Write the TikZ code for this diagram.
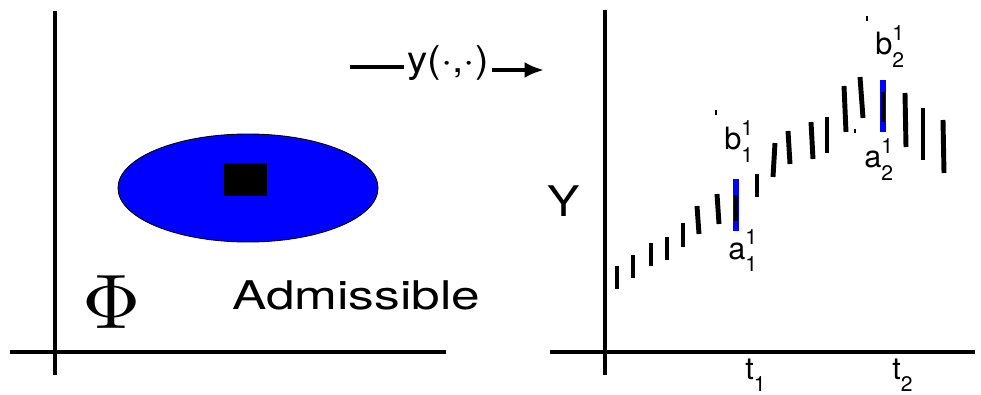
\documentclass[tikz,border=0pt]{standalone}
\usepackage{fontspec}
\newfontfamily\helv{TeX Gyre Heros}
\usetikzlibrary{arrows.meta}

% letter with subscript and superscript
\newcommand{\idx}[3]{#1\rlap{\raisebox{0.46em}{\fontsize{12}{13}\selectfont #3}}\raisebox{-0.42em}{\fontsize{12}{13}\selectfont #2}}

\begin{document}
\begin{tikzpicture}[x=0.02cm, y=-0.02cm,
    axis/.style={line width=2.3pt},
    bar/.style={line width=2.8pt},
    hbar/.style={line width=3.3pt, blue},
    lbl/.style={font=\helv\fontsize{17.5}{20}\selectfont, inner sep=0pt, anchor=base west}]

\useasboundingbox (0,0) rectangle (981,395);

% Left frame
\draw[axis] (55,11) -- (55,375);
\draw[axis] (10,352) -- (446,352);

% Admissible set
\filldraw[fill=blue, draw=black, line width=0.5pt] (248,188) ellipse [x radius=130, y radius=54];
\fill (224,163) rectangle (267,196);

\node[inner sep=0pt] (phi) at (112,302) {\scalebox{4.6}[4.4]{$\Phi$}};
\node[lbl, font=\helv\fontsize{22.5}{26}\selectfont] (adm) at (232,309) {\scalebox{1.3}[1]{Admissible}};

% Mapping arrow
\node[inner sep=2pt, font=\helv\fontsize{21}{24}\selectfont] (ymap) at (448,63) {\scalebox{1.1}[1]{y(·,·)}};
\coordinate (mstart) at (350,67);
\coordinate (mend) at (544,70);
\draw[line width=2.2pt] (mstart) -- (mstart -| ymap.west);
\draw[line width=2.2pt, -{Latex[length=11pt, width=9pt]}] (ymap.east |- mend) -- (mend);

% Right frame
\draw[axis] (605,10) -- (605,375);
\draw[axis] (550,352) -- (975,352);
\node[inner sep=0pt, font=\helv\fontsize{24}{28}\selectfont] (yax) at (564,201) {\scalebox{1.15}[1]{Y}};

% Bars
\foreach \xa/\ya/\xb/\yb in {617/266/617/289, 633/255/633/278, 651/243/651/266,
    667/237/667/260, 683/223/683/247, 697/206/699/234, 717/194/719/224,
    757/174/757/197, 775/143/773/177, 788/131/790/164, 811/122/813/159,
    827/117/827/153, 844/86/846/132, 860/77/863/118, 905/93/906/147,
    923/108/923/160, 943/120/944/173}
  \draw[bar] (\xa,\ya) -- (\xb,\yb);

% Highlighted bars
\draw[hbar] (736,179) -- (736,231);
\draw[bar] (736,195) -- (736,221);
\draw[hbar] (883,80) -- (883,132);
\draw[bar] (883,92) -- (883,122);

% Small marks
\draw[line width=1pt] (716,110) -- (716,115);
\draw[line width=1pt] (867,16) -- (867,21);
\draw[line width=1pt] (855,129) -- (855,133);

% Labels
\node[lbl] (b11) at (724,150) {\idx{b}{1}{1}};
\node[lbl] (a11) at (728,259) {\idx{a}{1}{1}};
\node[lbl] (a21) at (864,168) {\idx{a}{2}{1}};
\node[lbl] (b21) at (875,55) {\idx{b}{2}{1}};
\node[lbl] (t1) at (745,379) {\idx{t}{1}{}};
\node[lbl] (t2) at (892,379) {\idx{t}{2}{}};

\end{tikzpicture}
\end{document}
